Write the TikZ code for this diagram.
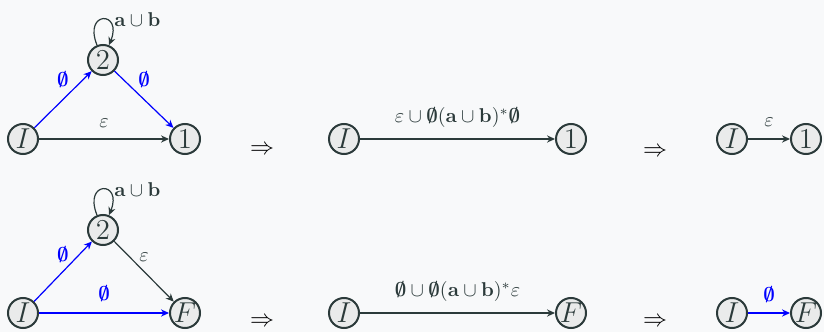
\documentclass[tikz,border=0pt]{standalone}
\usepackage{amsmath}
\usetikzlibrary{arrows.meta,automata,positioning}
\definecolor{slate}{HTML}{2B3A3A}
\definecolor{statefill}{HTML}{EAEBEB}
\definecolor{paper}{HTML}{F8F9FA}
\newcommand{\nul}{\boldsymbol{\emptyset}}

\begin{document}
\begin{tikzpicture}[
x=0.5pt, y=0.5pt,
  every state/.style = {draw=slate, line width=1pt, fill=statefill,
              minimum size=15pt, inner sep=0pt,
              font=\Large, text=slate},
  every loop/.style = {min distance=6.5mm, looseness=8},
  selfloop/.style = {out=112, in=68, loop},
  trans/.style = {semithick, slate, -{Stealth[length=4pt,width=3.6pt]}},
  etrans/.style = {trans, blue},
  lbl/.style = {font=\normalsize, text=slate},
  elbl/.style = {text=blue},
  implies/.style = {font=\fontsize{13}{15}\selectfont}
                ]
\useasboundingbox[fill=paper] (0,0) rectangle (824,332);

%% first row
\node (i1) [state] at (23,193) {$I$};
\node (m1) [state] at (103,272) {$2$};
\node (f1) [state] at (185,193) {$1$};
\draw [etrans] (i1) -- node[above=2.5pt, elbl] {$\nul$} (m1);
\draw [etrans] (m1) -- node[above=2.5pt, elbl] {$\nul$} (f1);
\draw [trans] (i1) -- node[above=2pt, lbl] {$\varepsilon$} (f1);
\draw [trans] (m1) edge[selfloop] node[right=2pt, lbl] {$\mathbf{a}\cup\mathbf{b}$} (m1);
\node (r1) [implies] at (262,182) {$\Rightarrow$};

\node (i2) [state] at (344,193) {$I$};
\node (f2) [state] at (571,193) {$1$};
\draw [trans] (i2) -- node[above=2pt, lbl]
  {$\varepsilon\cup\nul(\mathbf{a}\cup\mathbf{b})^*\nul$} (f2);
\node (r2) [implies] at (655,180) {$\Rightarrow$};

\node (i3) [state] at (732,193) {$I$};
\node (f3) [state] at (806,193) {$1$};
\draw [trans] (i3) -- node[above=2.5pt, lbl] {$\varepsilon$} (f3);

%% second row
\node (i4) [state] at (23,19) {$I$};
\node (m4) [state] at (103,102) {$2$};
\node (f4) [state] at (185,19) {$F$};
\draw [etrans] (i4) -- node[above=1pt, elbl] {$\nul$} (m4);
\draw [trans] (m4) -- node[above=1.3pt, lbl] {$\varepsilon$} (f4);
\draw [etrans] (i4) -- node[above=2pt, elbl] {$\nul$} (f4);
\draw [trans] (m4) edge[selfloop] node[right=2pt, lbl] {$\mathbf{a}\cup\mathbf{b}$} (m4);
\node (r4) [implies] at (262,10) {$\Rightarrow$};

\node (i5) [state] at (344,19) {$I$};
\node (f5) [state] at (571,19) {$F$};
\draw [trans] (i5) -- node[above=2pt, lbl]
  {$\nul\cup\nul(\mathbf{a}\cup\mathbf{b})^*\varepsilon$} (f5);
\node (r5) [implies] at (655,10) {$\Rightarrow$};

\node (i6) [state] at (732,19) {$I$};
\node (f6) [state] at (806,19) {$F$};
\draw [etrans] (i6) -- node[above=1.7pt, elbl] {$\nul$} (f6);
%%
\end{tikzpicture}
\end{document}
